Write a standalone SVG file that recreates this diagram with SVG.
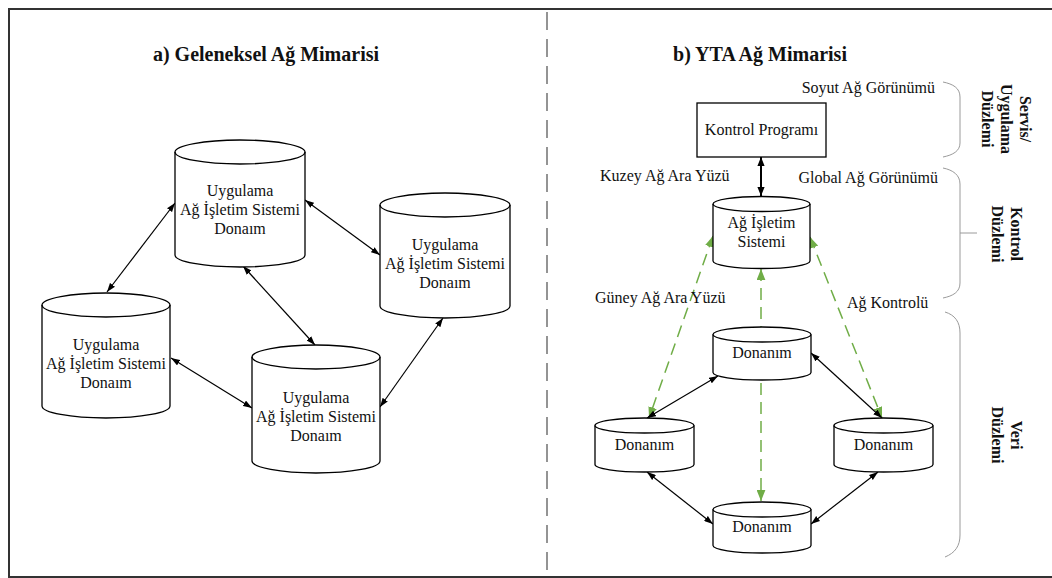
<svg xmlns="http://www.w3.org/2000/svg" width="1052" height="578" viewBox="0 0 1052 578">
  <style>
    .frame { fill: none; stroke: #333; stroke-width: 2; }
    .divider { fill: none; stroke: #7a7a7a; stroke-width: 1.6; stroke-dasharray: 18 9; }
    .body { fill: #fff; stroke: #000; stroke-width: 1.3; }
    .rim { fill: none; stroke: #000; stroke-width: 1.3; }
    .txt { font-family: 'Liberation Serif', 'DejaVu Serif', serif; font-size: 16px; fill: #111; }
    .title { font-family: 'Liberation Serif', 'DejaVu Serif', serif; font-size: 20px; font-weight: bold; fill: #111; }
    .plane { font-family: 'Liberation Serif', 'DejaVu Serif', serif; font-size: 16px; font-weight: bold; fill: #111; }
    .brace { fill: none; stroke: #9a9a9a; stroke-width: 1; }
    .link { fill: none; stroke: #000; stroke-width: 1.2; marker-start: url(#ah); marker-end: url(#ah); }
    .link-bold { fill: none; stroke: #000; stroke-width: 2; marker-start: url(#ahb); marker-end: url(#ahb); }
    .ctrl { fill: none; stroke: #70ad47; stroke-width: 1.5; stroke-dasharray: 12 7; marker-start: url(#ahg); marker-end: url(#ahg); }
  </style>
  <defs>
    <marker id="ah" viewBox="0 0 10 7" refX="10" refY="3.5" markerWidth="9" markerHeight="6.5" markerUnits="userSpaceOnUse" orient="auto-start-reverse">
      <path d="M0,0 L10,3.5 L0,7 z" fill="#000"/>
    </marker>
    <marker id="ahb" viewBox="0 0 10 8" refX="10" refY="4" markerWidth="9" markerHeight="8" markerUnits="userSpaceOnUse" orient="auto-start-reverse">
      <path d="M0,0 L10,4 L0,8 z" fill="#000"/>
    </marker>
    <marker id="ahg" viewBox="0 0 10 8" refX="10" refY="4" markerWidth="11" markerHeight="9" markerUnits="userSpaceOnUse" orient="auto-start-reverse">
      <path d="M0,0 L10,4 L0,8 z" fill="#70ad47"/>
    </marker>
  </defs>

  <rect width="1052" height="578" fill="#fff"/>
  <rect class="frame" x="9" y="9" width="1050" height="568"/>
  <line class="divider" x1="547" y1="12" x2="547" y2="577"/>

  <text class="title" x="266" y="61" text-anchor="middle">a) Geleneksel Ağ Mimarisi</text>
  <text class="title" x="760" y="61" text-anchor="middle">b) YTA Ağ Mimarisi</text>

  <!-- connectors -->
  <g id="connectors">
    <line class="link" x1="107" y1="292" x2="175" y2="203"/>
    <line class="link" x1="305" y1="200" x2="380" y2="255"/>
    <line class="link" x1="243" y1="266" x2="315" y2="345"/>
    <line class="link" x1="171" y1="358" x2="252" y2="408"/>
    <line class="link" x1="443" y1="318" x2="380" y2="407"/>

    <line class="link-bold" x1="761" y1="157" x2="761" y2="196"/>

    <line class="ctrl" x1="713" y1="236" x2="649" y2="418"/>
    <line class="ctrl" x1="810" y1="237" x2="882" y2="418"/>
    <line class="ctrl" x1="761" y1="269" x2="761" y2="501"/>

    <line class="link" x1="718" y1="376" x2="647" y2="418"/>
    <line class="link" x1="811" y1="353" x2="882" y2="418"/>
    <line class="link" x1="647" y1="472" x2="713" y2="524"/>
    <line class="link" x1="878" y1="472" x2="811" y2="524"/>
  </g>

  <!-- traditional architecture: each device bundles app, NOS and hardware -->
  <g id="node-a1">
    <path class="body" d="M175,152 A65,12 0 0 1 305,152 V255 A65,12 0 0 1 175,255 Z"/>
    <path class="rim" d="M175,152 A65,12 0 0 0 305,152"/>
    <text class="txt" x="240" text-anchor="middle"><tspan x="240" y="196">Uygulama</tspan><tspan x="240" y="215">Ağ İşletim Sistemi</tspan><tspan x="240" y="234">Donaım</tspan></text>
  </g>
  <g id="node-a2">
    <path class="body" d="M380,205 A65,12 0 0 1 510,205 V306 A65,12 0 0 1 380,306 Z"/>
    <path class="rim" d="M380,205 A65,12 0 0 0 510,205"/>
    <text class="txt" x="445" text-anchor="middle"><tspan x="445" y="250">Uygulama</tspan><tspan x="445" y="269">Ağ İşletim Sistemi</tspan><tspan x="445" y="288">Donaım</tspan></text>
  </g>
  <g id="node-a3">
    <path class="body" d="M42,305 A64,12 0 0 1 170,305 V406 A64,12 0 0 1 42,406 Z"/>
    <path class="rim" d="M42,305 A64,12 0 0 0 170,305"/>
    <text class="txt" x="106" text-anchor="middle"><tspan x="106" y="350">Uygulama</tspan><tspan x="106" y="369">Ağ İşletim Sistemi</tspan><tspan x="106" y="388">Donaım</tspan></text>
  </g>
  <g id="node-a4">
    <path class="body" d="M252,357 A64,12 0 0 1 380,357 V461 A64,12 0 0 1 252,461 Z"/>
    <path class="rim" d="M252,357 A64,12 0 0 0 380,357"/>
    <text class="txt" x="316" text-anchor="middle"><tspan x="316" y="403">Uygulama</tspan><tspan x="316" y="422">Ağ İşletim Sistemi</tspan><tspan x="316" y="441">Donaım</tspan></text>
  </g>

  <!-- SDN architecture -->
  <g id="node-app">
    <rect class="body" x="697" y="103" width="129" height="54"/>
    <text class="txt" x="761.5" y="135" text-anchor="middle">Kontrol Programı</text>
  </g>
  <g id="node-nos">
    <path class="body" d="M713,204 A48.5,7.5 0 0 1 810,204 V261 A48.5,7.5 0 0 1 713,261 Z"/>
    <path class="rim" d="M713,204 A48.5,7.5 0 0 0 810,204"/>
    <text class="txt" x="761.5" text-anchor="middle"><tspan x="761.5" y="228">Ağ İşletim</tspan><tspan x="761.5" y="247">Sistemi</tspan></text>
  </g>
  <g id="node-hw-top">
    <path class="body" d="M713,334.5 A49,7.5 0 0 1 811,334.5 V372.5 A49,7.5 0 0 1 713,372.5 Z"/>
    <path class="rim" d="M713,334.5 A49,7.5 0 0 0 811,334.5"/>
    <text class="txt" x="762" y="358" text-anchor="middle">Donanım</text>
  </g>
  <g id="node-hw-left">
    <path class="body" d="M595,425.5 A49.5,7.5 0 0 1 694,425.5 V464.5 A49.5,7.5 0 0 1 595,464.5 Z"/>
    <path class="rim" d="M595,425.5 A49.5,7.5 0 0 0 694,425.5"/>
    <text class="txt" x="644.5" y="450" text-anchor="middle">Donanım</text>
  </g>
  <g id="node-hw-right">
    <path class="body" d="M834,425.5 A49.5,7.5 0 0 1 933,425.5 V464.5 A49.5,7.5 0 0 1 834,464.5 Z"/>
    <path class="rim" d="M834,425.5 A49.5,7.5 0 0 0 933,425.5"/>
    <text class="txt" x="883.5" y="450" text-anchor="middle">Donanım</text>
  </g>
  <g id="node-hw-bottom">
    <path class="body" d="M713,509.5 A49,7.5 0 0 1 811,509.5 V545.5 A49,7.5 0 0 1 713,545.5 Z"/>
    <path class="rim" d="M713,509.5 A49,7.5 0 0 0 811,509.5"/>
    <text class="txt" x="762" y="532" text-anchor="middle">Donanım</text>
  </g>

  <!-- interface / view labels -->
  <g id="labels">
    <text class="txt" x="935" y="93" text-anchor="end">Soyut Ağ Görünümü</text>
    <text class="txt" x="600" y="181">Kuzey Ağ Ara Yüzü</text>
    <text class="txt" x="938" y="183" text-anchor="end">Global Ağ Görünümü</text>
    <text class="txt" x="595" y="303">Güney Ağ Ara Yüzü</text>
    <text class="txt" x="847" y="308">Ağ Kontrolü</text>
  </g>

  <!-- plane brackets -->
  <g id="planes">
    <path class="brace" d="M943,82 C953,84 960,88 960,97 V143 C960,151 953,155 943,157"/>
    <path class="brace" d="M943,168 C953,170 960,175 960,184 V283 C960,292 953,296 943,298"/>
    <path class="brace" d="M960,233 H977"/>
    <path class="brace" d="M945,312 C955,315 960,322 960,333 V535 C960,546 955,553 945,557"/>

    <text class="plane" transform="translate(1020,119) rotate(90)" text-anchor="middle"><tspan x="0" y="0">Servis/</tspan><tspan x="0" y="19">Uygulama</tspan><tspan x="0" y="38">Düzlemi</tspan></text>
    <text class="plane" transform="translate(1011,234) rotate(90)" text-anchor="middle"><tspan x="0" y="0">Kontrol</tspan><tspan x="0" y="19">Düzlemi</tspan></text>
    <text class="plane" transform="translate(1011,435) rotate(90)" text-anchor="middle"><tspan x="0" y="0">Veri</tspan><tspan x="0" y="19">Düzlemi</tspan></text>
  </g>
</svg>
